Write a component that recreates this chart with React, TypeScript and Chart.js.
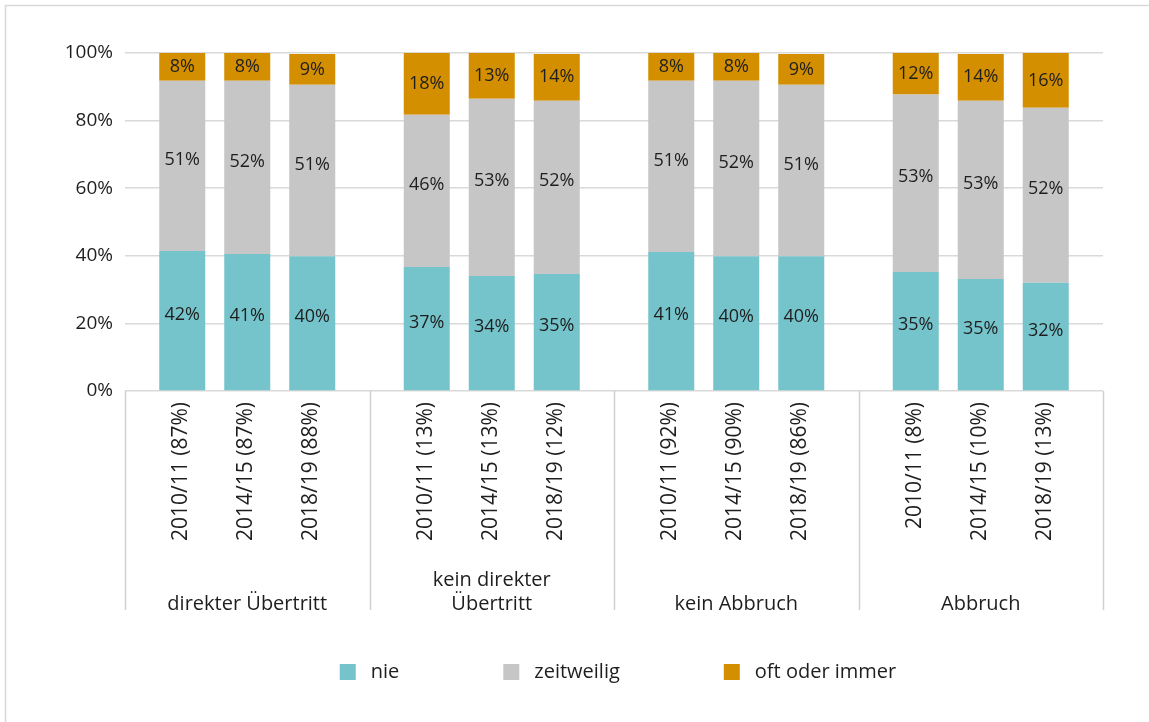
import React, { useEffect, useRef } from "react";
import { Chart, registerables } from "chart.js";

Chart.register(...registerables);

// ---- data ----
const groupLabels: string[][] = [["direkter Übertritt"], ["kein direkter", "Übertritt"], ["kein Abbruch"], ["Abbruch"]];
const years = ["2010/11", "2014/15", "2018/19"];
const shares = ["87%", "87%", "88%", "13%", "13%", "12%", "92%", "90%", "86%", "8%", "10%", "13%"];
const seriesNames = ["nie", "zeitweilig", "oft oder immer"];
const seriesColors = ["#76C4CB", "#C6C6C6", "#D38F00"];

// bar heights (order: group by group, year by year)
const nie = [41.4, 40.5, 39.9, 36.7, 34.0, 34.6, 41.1, 39.9, 39.9, 35.2, 33.1, 32.0];
const zeitweilig = [50.4, 51.3, 50.7, 45.0, 52.5, 51.3, 50.7, 51.9, 50.7, 52.5, 52.8, 51.8];
const oftOderImmer = [8.2, 8.2, 9.1, 18.3, 13.5, 13.8, 8.2, 8.2, 9.1, 12.3, 13.8, 16.2];

// printed value labels
const nieLabels = [42, 41, 40, 37, 34, 35, 41, 40, 40, 35, 35, 32];
const zeitweiligLabels = [51, 52, 51, 46, 53, 52, 51, 52, 51, 53, 53, 52];
const oftLabels = [8, 8, 9, 18, 13, 14, 8, 8, 9, 12, 14, 16];

const yMin = 0;
const yMax = 100;
const yStep = 20;

const FONT = "'Open Sans', sans-serif";
const TEXT = "#1e1e1e";

const decorPlugin = {
  id: "decor",
  beforeDraw(chart: any) {
    const ctx = chart.ctx;
    ctx.save();
    ctx.strokeStyle = "#d9d9d9";
    ctx.lineWidth = 1.5;
    ctx.beginPath();
    ctx.moveTo(5.5, chart.height);
    ctx.lineTo(5.5, 5.5);
    ctx.lineTo(chart.width, 5.5);
    ctx.stroke();
    ctx.restore();
  },
  afterDatasetsDraw(chart: any) {
    const ctx = chart.ctx;
    ctx.save();
    ctx.fillStyle = TEXT;
    ctx.font = `18px ${FONT}`;
    ctx.textAlign = "center";
    ctx.textBaseline = "middle";
    const nS = seriesNames.length;
    chart.data.datasets.forEach((ds: any, i: number) => {
      const meta = chart.getDatasetMeta(i);
      const isTop = i % nS === nS - 1;
      meta.data.forEach((bar: any, j: number) => {
        const y = (bar.y + bar.base) / 2 - (isTop ? 0 : 6);
        ctx.fillText(ds.valueLabels[j] + "%", bar.x, y);
      });
    });
    ctx.restore();
  },
  afterDraw(chart: any) {
    const ctx = chart.ctx;
    const area = chart.chartArea;
    const nG = groupLabels.length;
    const gw = (area.right - area.left) / nG;
    ctx.save();
    // group separators
    ctx.strokeStyle = "#d0d0d0";
    ctx.lineWidth = 1.5;
    for (let g = 0; g <= nG; g++) {
      const x = Math.round(area.left + g * gw) + 0.5;
      ctx.beginPath();
      ctx.moveTo(x, area.bottom);
      ctx.lineTo(x, area.bottom + 219);
      ctx.stroke();
    }
    // year labels (rotated)
    ctx.fillStyle = TEXT;
    ctx.font = `21px ${FONT}`;
    ctx.textBaseline = "middle";
    ctx.textAlign = "right";
    years.forEach((yr, k) => {
      const meta = chart.getDatasetMeta(k * seriesNames.length);
      meta.data.forEach((bar: any, g: number) => {
        ctx.save();
        ctx.translate(bar.x - 1, area.bottom + 11);
        ctx.rotate(-Math.PI / 2);
        ctx.fillText(`${yr} (${shares[g * years.length + k]})`, 0, 0);
        ctx.restore();
      });
    });
    // group labels
    ctx.textAlign = "center";
    ctx.font = `20px ${FONT}`;
    groupLabels.forEach((lines, g) => {
      const cx = area.left + (g + 0.5) * gw;
      const n = lines.length;
      lines.forEach((ln, li) => {
        ctx.fillText(ln, cx, area.bottom + 213 - (n - 1 - li) * 24);
      });
    });
    // legend
    ctx.font = `20px ${FONT}`;
    ctx.textAlign = "left";
    const box = 16;
    const gapText = 15;
    const gapItem = 104;
    const widths = seriesNames.map((n) => box + gapText + ctx.measureText(n).width);
    const total = widths.reduce((a, b) => a + b, 0) + gapItem * (widths.length - 1);
    let x = (area.left + area.right) / 2 - total / 2 + 4;
    const ly = 672;
    seriesNames.forEach((n, i) => {
      ctx.fillStyle = seriesColors[i];
      ctx.fillRect(x, ly - box / 2, box, box);
      ctx.fillStyle = TEXT;
      ctx.fillText(n, x + box + gapText, ly);
      x += widths[i] + gapItem;
    });
    ctx.restore();
  },
};

export default function App() {
  const ref = useRef<HTMLCanvasElement | null>(null);
  useEffect(() => {
    if (!ref.current) return;
    const seriesValues = [nie, zeitweilig, oftOderImmer];
    const seriesLabelValues = [nieLabels, zeitweiligLabels, oftLabels];
    const datasets: any[] = [];
    years.forEach((_, k) => {
      seriesValues.forEach((vals, s) => {
        datasets.push({
          label: seriesNames[s],
          data: groupLabels.map((_, g) => vals[g * years.length + k]),
          valueLabels: groupLabels.map((_, g) => seriesLabelValues[s][g * years.length + k]),
          backgroundColor: seriesColors[s],
          borderWidth: 0,
          stack: "s" + k,
          categoryPercentage: 0.7975,
          barPercentage: 0.708,
        });
      });
    });
    const chart = new Chart(ref.current, {
      type: "bar",
      data: { labels: groupLabels.map((l) => l.join(" ")), datasets },
      options: {
        responsive: false,
        animation: false,
        layout: { padding: { top: 53, right: 46, bottom: 0, left: 0 } },
        plugins: { legend: { display: false }, tooltip: { enabled: false } },
        scales: {
          x: {
            stacked: true,
            grid: { display: false, drawTicks: false },
            border: { display: false },
            ticks: { display: false },
            afterFit: (s: any) => {
              s.height = 331;
            },
          },
          y: {
            stacked: true,
            min: yMin,
            max: yMax,
            border: { display: false },
            grid: { color: "#d9d9d9", lineWidth: 1.5, drawTicks: false },
            ticks: {
              stepSize: yStep,
              padding: 12,
              color: TEXT,
              font: { family: FONT, size: 19 },
              callback: (v: any) => v + "%",
            },
            afterFit: (s: any) => {
              s.width = 125;
            },
          },
        },
      } as any,
      plugins: [decorPlugin],
    });
    return () => chart.destroy();
  }, []);
  return (
    <div style={{ position: "absolute", left: 0, top: 0, width: 1149, height: 722, background: "#fff" }}>
      <canvas ref={ref} width={1149} height={722} style={{ display: "block" }} />
    </div>
  );
}
